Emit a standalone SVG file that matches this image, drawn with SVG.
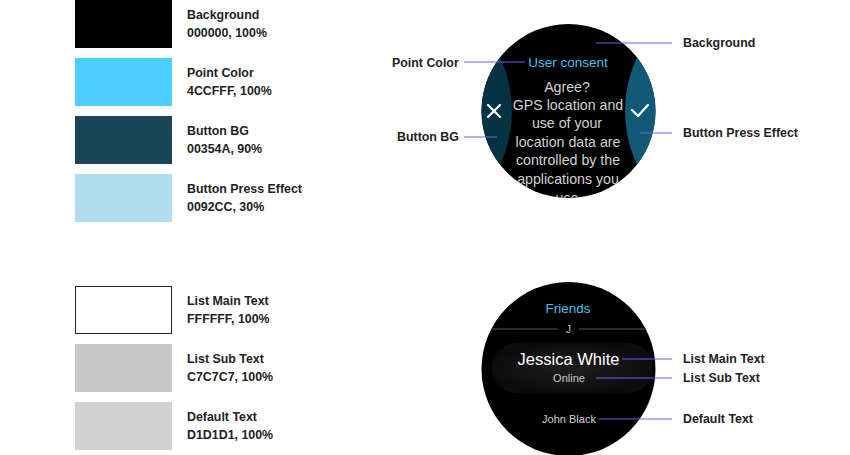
<svg xmlns="http://www.w3.org/2000/svg" width="850" height="455" viewBox="0 0 850 455">
<style>
.lbl{font-family:"Liberation Sans",Arial,sans-serif;font-weight:bold;font-size:12.4px;fill:#222}
.ln{stroke:#6c60e8;stroke-width:1;fill:none}
.w{font-family:"Liberation Sans",Arial,sans-serif;text-anchor:middle}
</style>
<defs>
<clipPath id="c1"><circle cx="568.5" cy="111" r="87"/></clipPath>
<clipPath id="c2"><circle cx="568.5" cy="369" r="87"/></clipPath>
<radialGradient id="pg" cx="0.5" cy="0.5" r="0.5">
<stop offset="0" stop-color="#1e1e1e"/>
<stop offset="1" stop-color="#0c0c0c"/>
</radialGradient>
</defs>
<rect width="850" height="455" fill="#fff"/>

<g id="swatches">
<g id="sw-background"><rect x="75" y="0" width="97" height="48" fill="#000"/><text class="lbl" x="187" y="19">Background</text><text class="lbl" x="187" y="37">000000, 100%</text></g>
<g id="sw-point"><rect x="75" y="58" width="97" height="48" fill="#4ccfff"/><text class="lbl" x="187" y="77">Point Color</text><text class="lbl" x="187" y="95">4CCFFF, 100%</text></g>
<g id="sw-buttonbg"><rect x="75" y="116" width="97" height="48" fill="#1a4557"/><text class="lbl" x="187" y="135">Button BG</text><text class="lbl" x="187" y="153">00354A, 90%</text></g>
<g id="sw-press"><rect x="75" y="174" width="97" height="48" fill="#b2ddef"/><text class="lbl" x="187" y="193">Button Press Effect</text><text class="lbl" x="187" y="211">0092CC, 30%</text></g>
<g id="sw-main"><rect x="75.5" y="286.5" width="96" height="47" fill="#fff" stroke="#222" stroke-width="1"/><text class="lbl" x="187" y="305">List Main Text</text><text class="lbl" x="187" y="323">FFFFFF, 100%</text></g>
<g id="sw-sub"><rect x="75" y="344" width="97" height="48" fill="#c7c7c7"/><text class="lbl" x="187" y="363">List Sub Text</text><text class="lbl" x="187" y="381">C7C7C7, 100%</text></g>
<g id="sw-default"><rect x="75" y="402" width="97" height="48" fill="#d1d1d1"/><text class="lbl" x="187" y="421">Default Text</text><text class="lbl" x="187" y="439">D1D1D1, 100%</text></g>
</g>

<g id="watch1">
<circle cx="568.5" cy="111" r="87" fill="#000"/>
<g clip-path="url(#c1)">
<circle cx="385" cy="111" r="127" fill="#053343"/>
<circle cx="752" cy="111" r="127" fill="#105a78"/>
<text class="w" x="568" y="67" font-size="13.5" fill="#44c2ee">User consent</text>
<g class="w" font-size="14.2" fill="#d1d1d1">
<text x="567" y="92">Agree?</text>
<text x="568" y="110">GPS location and</text>
<text x="567" y="128">use of your</text>
<text x="568" y="147">location data are</text>
<text x="568" y="165">controlled by the</text>
<text x="568" y="184">applications you</text>
<text x="567" y="203">use</text>
</g>
</g>
<path d="M488 105 L500 117 M500 105 L488 117" stroke="#fff" stroke-width="2.2" fill="none" stroke-linecap="round"/>
<path d="M632 110 L638 116 L648 105" stroke="#fff" stroke-width="2.2" fill="none" stroke-linecap="round" stroke-linejoin="round"/>
</g>

<g id="watch2">
<circle cx="568.5" cy="369" r="87" fill="#000"/>
<g clip-path="url(#c2)">
<rect x="492" y="343" width="161" height="50" rx="25" fill="url(#pg)"/>
<line x1="480" y1="329" x2="558" y2="329" stroke="#3a3a3a" stroke-width="1.5"/>
<line x1="579" y1="329" x2="660" y2="329" stroke="#3a3a3a" stroke-width="1.5"/>
</g>
<text class="w" x="568" y="313" font-size="13.5" fill="#44c2ee">Friends</text>
<text class="w" x="568.5" y="333" font-size="10" fill="#c7c7c7">J</text>
<text class="w" x="568.5" y="365" font-size="16.5" fill="#fff">Jessica White</text>
<text class="w" x="569" y="382" font-size="11" fill="#c7c7c7">Online</text>
<text class="w" x="569" y="423" font-size="11" fill="#d1d1d1">John Black</text>
</g>

<g id="connectors">
<line class="ln" x1="596" y1="43" x2="672" y2="43"/>
<line class="ln" x1="464" y1="62" x2="525" y2="62"/>
<line class="ln" x1="464" y1="137" x2="497" y2="137"/>
<line class="ln" x1="640" y1="133" x2="672" y2="133"/>
<line class="ln" x1="622" y1="359" x2="672" y2="359"/>
<line class="ln" x1="596" y1="378" x2="672" y2="378"/>
<line class="ln" x1="599" y1="419" x2="672" y2="419"/>
</g>

<g id="callouts">
<text class="lbl" x="683" y="47">Background</text>
<text class="lbl" x="392" y="67">Point Color</text>
<text class="lbl" x="397" y="141">Button BG</text>
<text class="lbl" x="683" y="137">Button Press Effect</text>
<text class="lbl" x="683" y="363">List Main Text</text>
<text class="lbl" x="683" y="382">List Sub Text</text>
<text class="lbl" x="683" y="423">Default Text</text>
</g>
</svg>
